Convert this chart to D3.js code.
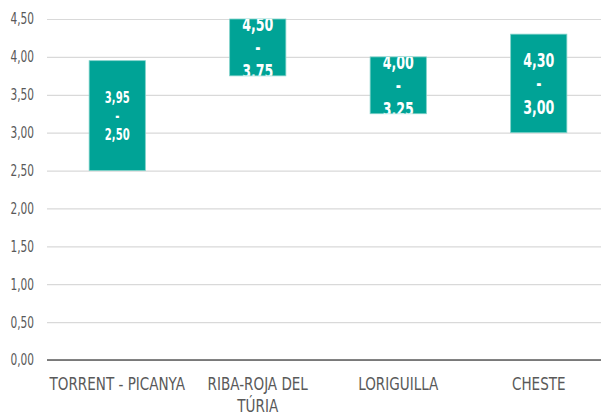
<!DOCTYPE html>
<html>
<head>
<meta charset="utf-8">
<script src="https://cdn.jsdelivr.net/npm/d3@7"></script>
<style>
  body { margin: 0; background: #fff; }
  text { font-family: "DejaVu Sans", sans-serif; font-stretch: condensed; }
</style>
</head>
<body>
<div id="vis"></div>
<script>
const FRAME_WIDTH = 601;
const FRAME_HEIGHT = 415;
const MARGINS = {left: 47, right: -8, top: 19, bottom: 55};

const categories = ["TORRENT - PICANYA", "RIBA-ROJA DEL\nTÚRIA", "LORIGUILLA", "CHESTE"];
const lows = [2.50, 3.75, 3.25, 3.00];
const highs = [3.95, 4.50, 4.00, 4.30];
const yTicks = [0, 0.5, 1, 1.5, 2, 2.5, 3, 3.5, 4, 4.5];
const labelSizes = [15.5, 19.5, 19.5, 19.5];

const VIS_WIDTH = FRAME_WIDTH - MARGINS.left - MARGINS.right;
const VIS_HEIGHT = FRAME_HEIGHT - MARGINS.top - MARGINS.bottom;

// the original uses a narrow font, squeeze the wide one a bit
const SQUEEZE = 0.72;

const fmt = (v) => v.toFixed(2).replace(".", ",");

const svg = d3.select("#vis")
  .append("svg")
    .attr("width", FRAME_WIDTH)
    .attr("height", FRAME_HEIGHT);

const X_SCALE = d3.scaleBand()
  .domain(categories)
  .range([MARGINS.left, MARGINS.left + VIS_WIDTH])
  .paddingInner(0.6)
  .paddingOuter(0.3);

const Y_SCALE = d3.scaleLinear()
  .domain([0, 4.5])
  .range([MARGINS.top + VIS_HEIGHT, MARGINS.top]);

// gridlines + tick labels
const yAxis = svg.append("g")
  .attr("transform", "translate(" + MARGINS.left + ",0)")
  .call(d3.axisLeft(Y_SCALE)
    .tickValues(yTicks)
    .tickSize(-VIS_WIDTH)
    .tickFormat(fmt));
yAxis.select(".domain").remove();
yAxis.attr("font-size", null).attr("font-family", null);
yAxis.selectAll(".tick line").attr("stroke", "#d9d9d9").attr("stroke-width", 1.2);
yAxis.selectAll(".tick text")
  .attr("fill", "#595959")
  .style("font-size", "15.5px")
  .attr("x", 0)
  .attr("transform", "translate(-13,0) scale(0.76,1)");

// bars
const defs = svg.append("defs");
categories.forEach((c, i) => {
  defs.append("clipPath").attr("id", "clip" + i)
    .append("rect")
      .attr("x", X_SCALE(c))
      .attr("y", Y_SCALE(highs[i]))
      .attr("width", X_SCALE.bandwidth())
      .attr("height", Y_SCALE(lows[i]) - Y_SCALE(highs[i]));
});

svg.selectAll(".bar")
  .data(categories)
  .enter()
  .append("rect")
    .attr("class", "bar")
    .attr("x", (d) => X_SCALE(d))
    .attr("y", (d, i) => Y_SCALE(highs[i]))
    .attr("width", X_SCALE.bandwidth())
    .attr("height", (d, i) => Y_SCALE(lows[i]) - Y_SCALE(highs[i]))
    .attr("fill", "#00a396")
    .attr("stroke", "#7fd1c9")
    .attr("stroke-width", 0.8);

// labels in bars
categories.forEach((c, i) => {
  const cx = X_SCALE(c) + X_SCALE.bandwidth() / 2;
  const cy = (Y_SCALE(highs[i]) + Y_SCALE(lows[i])) / 2;
  const fs = labelSizes[i];
  const gap = i == 0 ? fs * 1.2 : fs * 1.2;
  const g = svg.append("g").attr("clip-path", "url(#clip" + i + ")");
  const t = g.append("text")
    .attr("transform", "translate(" + cx + ",0) scale(" + SQUEEZE + ",1)")
    .attr("text-anchor", "middle")
    .attr("fill", "#fff")
    .attr("font-weight", "bold")
    .attr("font-size", fs);
  [fmt(highs[i]), "-", fmt(lows[i])].forEach((s, k) => {
    t.append("tspan")
      .attr("x", 0)
      .attr("y", cy + (k - 1) * gap)
      .attr("dy", "0.36em")
      .text(s);
  });
});

// x axis line
svg.append("line")
  .attr("x1", MARGINS.left)
  .attr("x2", MARGINS.left + VIS_WIDTH)
  .attr("y1", Y_SCALE(0))
  .attr("y2", Y_SCALE(0))
  .attr("stroke", "#595959")
  .attr("stroke-width", 1.5);

// category labels
categories.forEach((c) => {
  const lines = c.split("\n");
  const t = svg.append("text")
    .attr("transform", "translate(" + (X_SCALE(c) + X_SCALE.bandwidth() / 2) + ",0) scale(0.86,1)")
    .attr("text-anchor", "middle")
    .attr("fill", "#595959")
    .attr("font-size", 17.5);
  lines.forEach((s, k) => {
    t.append("tspan")
      .attr("x", 0)
      .attr("y", Y_SCALE(0) + 30 + k * 22)
      .text(s);
  });
});
</script>
</body>
</html>
